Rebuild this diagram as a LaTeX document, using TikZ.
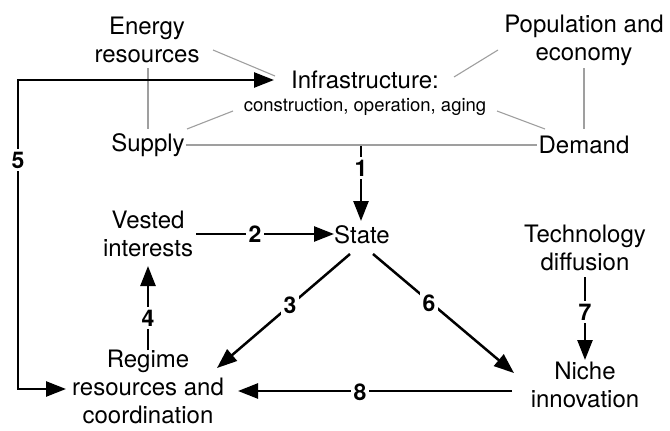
\documentclass[tikz,border=0pt]{standalone}
\usepackage{fontspec}
\setmainfont{TeX Gyre Heros}
\usetikzlibrary{arrows.meta}
\begin{document}
\begin{tikzpicture}[x=1pt,y=-1pt,
  txt/.style={align=center,font=\fontsize{24}{28}\selectfont,inner sep=1pt},
  small/.style={font=\fontsize{18.5}{20}\selectfont,inner sep=1pt},
  thin/.style={draw=gray!75,line width=1.1pt},
  arr/.style={line width=2.5pt,-{Triangle[length=20pt,width=15pt]}},
  num/.style={font=\fontsize{23}{24}\selectfont\bfseries,fill=white,inner sep=3pt}]
\useasboundingbox (0,0) rectangle (670,431);
% nodes
\node[txt] (energy) at (147,40) {Energy\\resources};
\node[txt] (pop) at (584,40) {Population and\\economy};
\node[txt] (infra) at (365,80) {Infrastructure:};
\node[small] (cons) at (365,107) {construction, operation, aging};
\node[txt] (supply) at (148,145) {Supply};
\node[txt] (demand) at (584,145) {Demand};
\node[txt] (state) at (362,235) {State};
\node[txt] (vested) at (148,234) {Vested\\interests};
\node[txt] (tech) at (585,248) {Technology\\diffusion};
\node[txt] (niche) at (585,385) {Niche\\innovation};
\node[txt] (regime) at (148,387) {Regime\\resources and\\coordination};
% thin gray links
\coordinate (e1) at (213,50); \coordinate (e2) at (275,76);
\coordinate (p1) at (498,50); \coordinate (p2) at (454,77);
\coordinate (s1) at (187,129); \coordinate (s2) at (233,111);
\coordinate (d1) at (545,129); \coordinate (d2) at (497,111);
\coordinate (ev1) at (148,68); \coordinate (ev2) at (148,129);
\coordinate (pv1) at (584,68); \coordinate (pv2) at (584,129);
\draw[thin] (e1) -- (e2);
\draw[thin] (p1) -- (p2);
\draw[thin] (s1) -- (s2);
\draw[thin] (d1) -- (d2);
\draw[thin] (ev1) -- (ev2);
\draw[thin] (pv1) -- (pv2);
\draw[thin] (supply.east) -- (demand.west);
% arrow 1
\coordinate (a1s) at (361,146);
\coordinate (t1) at (361,221);
\draw[arr] (a1s) -- (t1);
\node[num] (n1) at (361,168) {1};
% arrow 2
\coordinate (s2a) at (196,234);
\coordinate (t2) at (334,234);
\draw[arr] (s2a) -- (t2);
\node[num] (n2) at (255,234) {2};
% arrow 3
\coordinate (s3) at (350,254);
\coordinate (t3) at (217,368);
\draw[arr] (s3) -- (t3);
\node[num] (n3) at (290,305) {3};
% arrow 6
\coordinate (s6) at (373,254);
\coordinate (t6) at (514,373);
\draw[arr] (s6) -- (t6);
\node[num] (n6) at (429,303) {6};
% arrow 4
\coordinate (s4) at (148,350);
\coordinate (t4) at (148,266);
\draw[arr] (s4) -- (t4);
\node[num] (n4) at (148,318) {4};
% arrow 7
\coordinate (s7) at (585,277);
\coordinate (t7) at (585,360);
\draw[arr] (s7) -- (t7);
\node[num] (n7) at (585,312) {7};
% arrow 8
\coordinate (s8) at (512,391);
\coordinate (t8) at (238,391);
\draw[arr] (s8) -- (t8);
\node[num] (n8) at (360,392) {8};
% arrow 5
\coordinate (c5a) at (18,80);
\coordinate (c5b) at (18,389);
\coordinate (t5a) at (274,80);
\coordinate (t5b) at (66,389);
\coordinate (m5) at (18,160);
\draw[arr] (m5) -- (c5a) -- (t5a);
\draw[arr] (m5) -- (c5b) -- (t5b);
\node[num] (n5) at (m5) {5};
\end{tikzpicture}
\end{document}
